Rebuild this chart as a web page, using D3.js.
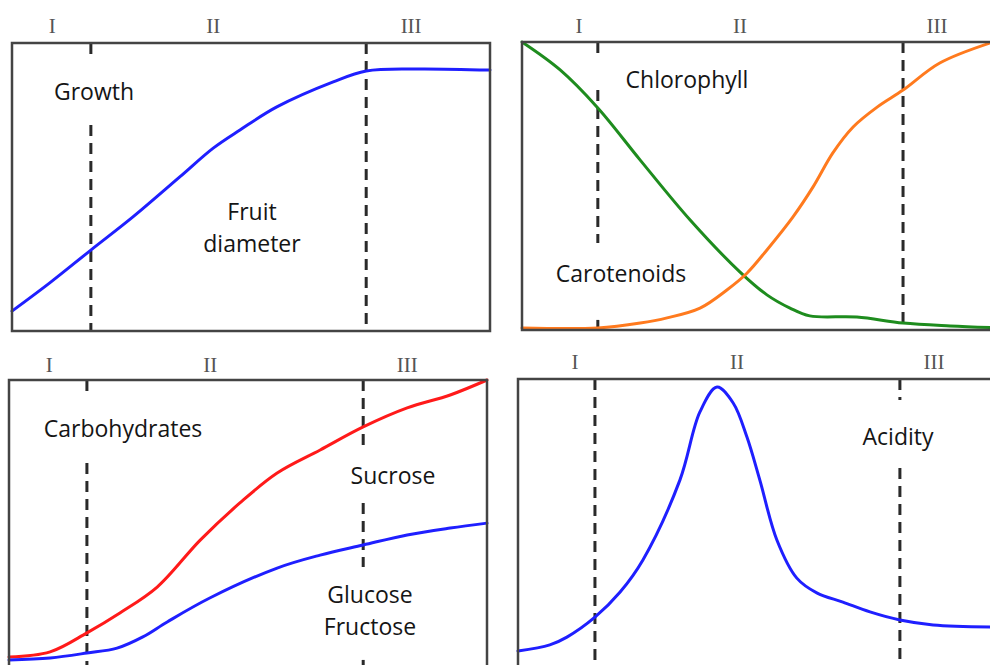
<!DOCTYPE html>
<html>
<head>
<meta charset="utf-8">
<script src="https://cdn.jsdelivr.net/npm/d3@7"></script>
<style>
  html, body { margin: 0; padding: 0; background: #fff; }
  svg { display: block; }
</style>
</head>
<body>
<svg id="chart" width="990" height="665"></svg>
<script>
// Stage names shown above each panel
const stageNames = ["I", "II", "III"];

// Fruit growth (diameter), time in % of development, value in % of max
const growthTime  = [0, 7.9, 16.5, 25.3, 35.1, 42.1, 47.7, 55.4, 67.2, 74.1, 84.7, 100];
const growthDiam  = [6.9, 16.7, 28.1, 39.6, 53.5, 63.5, 69.8, 77.8, 86.5, 90.3, 91.0, 90.6];

// Pigments
const chloroTime  = [0, 8.1, 16.1, 25.1, 35.7, 46.3, 52.0, 56.9, 61.1, 71.1, 80.9, 90.9, 100];
const chloroVal   = [100, 90.3, 77.1, 59.0, 38.2, 20.1, 12.2, 7.6, 4.9, 4.5, 2.4, 1.4, 0.8];
const caroTime    = [0, 16.1, 25.1, 30.8, 37.8, 43.5, 47.8, 52.0, 57.5, 61.8, 66.0, 70.3, 75.4, 80.9, 88.7, 100];
const caroVal     = [0.7, 0.7, 2.4, 4.2, 7.6, 13.9, 19.8, 27.8, 39.2, 49.7, 61.5, 70.5, 77.4, 83.3, 92.7, 100];

// Carbohydrates
const sucroseTime = [0, 8.6, 16.3, 23.2, 31.0, 40.0, 48.3, 56.1, 65.1, 74.1, 83.3, 92.3, 100];
const sucroseVal  = [3.8, 5.6, 12.2, 19.1, 28.1, 44.4, 57.3, 67.7, 75.7, 83.7, 90.3, 94.8, 100];
const glucoseTime = [0, 8.6, 16.3, 22.6, 28.0, 33.1, 42.0, 56.1, 65.1, 74.1, 83.3, 92.3, 100];
const glucoseVal  = [2.8, 3.5, 5.2, 6.9, 10.8, 16.0, 24.3, 34.7, 39.2, 42.7, 46.2, 48.6, 50.3];

// Acidity
const acidTime = [0, 6.7, 10.3, 16.2, 21.5, 26.3, 34.1, 38.3, 41.9, 45.3, 48.2, 50.9, 54.5, 58.7, 62.9, 68.4, 74.1, 80.4, 87.4, 100];
const acidVal  = [5.9, 8.0, 10.7, 17.6, 26.3, 37.4, 65.1, 88.6, 97.2, 91.7, 79.9, 65.1, 44.3, 31.1, 26.0, 22.8, 19.4, 16.6, 14.9, 14.2];

// Stage boundaries (time %) and where the stage names sit
const bounds = {
  growth:  [16.5, 74.1],
  pigment: [16.1, 80.9],
  carbo:   [16.3, 74.1],
  acid:    [16.2, 80.4]
};
const stageLabelPos = {
  growth:  [8.4, 42.1, 83.5],
  pigment: [12.1, 46.3, 88.1],
  carbo:   [8.4, 42.1, 83.3],
  acid:    [12.0, 46.1, 87.6]
};
// Visible stretches of each boundary line (value ranges, top to bottom), leaving room for labels
const boundRuns = {
  growth:  [[[100, 95.1], [71.5, 0]], [[100, 0]]],
  pigment: [[[100, 94.4], [83.3, 30.2], [3.5, 0]], [[100, 0]]],
  carbo:   [[[100, 94.1], [71.2, 0]], [[100, 76.7], [57.3, 35.1], [2.8, 0]]],
  acid:    [[[100, 0]], [[100, 92.7], [69.2, 0]]]
};

const svg = d3.select("#chart");
const FONT = "'Open Sans', 'DejaVu Sans', sans-serif";

function panel(cfg) {
  const x = d3.scaleLinear().domain([0, 100]).range([cfg.left, cfg.right]);
  const y = d3.scaleLinear().domain([0, 100]).range([cfg.bottom, cfg.top]);
  const g = svg.append("g");

  // stage names
  g.selectAll("text.stage").data(stageNames).join("text")
    .attr("class", "stage")
    .attr("x", (d, i) => x(stageLabelPos[cfg.key][i]))
    .attr("y", cfg.top - cfg.stageOffset)
    .attr("text-anchor", "middle")
    .attr("font-family", "'Liberation Serif', 'DejaVu Serif', serif")
    .attr("font-size", 21)
    .attr("fill", "#555")
    .text(d => d);

  // stage boundaries
  bounds[cfg.key].forEach((b, i) => {
    boundRuns[cfg.key][i].forEach(run => {
      g.append("line")
        .attr("x1", x(b)).attr("x2", x(b))
        .attr("y1", y(run[0])).attr("y2", y(run[1]))
        .attr("stroke", "#2a2a2a")
        .attr("stroke-width", 3)
        .attr("stroke-dasharray", "11,7");
    });
  });

  // curves
  const line = d3.line().x(d => x(d[0])).y(d => y(d[1])).curve(d3.curveCatmullRom.alpha(0.5));
  cfg.series.forEach(s => {
    g.append("path")
      .datum(d3.zip(s.t, s.v))
      .attr("d", line)
      .attr("fill", "none")
      .attr("stroke", s.color)
      .attr("stroke-width", 3)
      .attr("stroke-linejoin", "round")
      .attr("stroke-linecap", "round");
  });

  // frame
  g.append("rect")
    .attr("x", cfg.left).attr("y", cfg.top)
    .attr("width", cfg.right - cfg.left).attr("height", cfg.bottom - cfg.top)
    .attr("fill", "none")
    .attr("stroke", "#444")
    .attr("stroke-width", 2.5);

  // annotations
  cfg.labels.forEach(l => {
    g.append("text")
      .attr("x", l.x).attr("y", l.y)
      .attr("text-anchor", "middle")
      .attr("font-family", FONT)
      .attr("font-size", 23)
      .attr("fill", "#151515")
      .text(l.text);
  });
}

panel({
  key: "growth", left: 12, right: 490, top: 43, bottom: 331, stageOffset: 10,
  series: [{ t: growthTime, v: growthDiam, color: "#1f1fff" }],
  labels: [
    { text: "Growth", x: 94, y: 100 },
    { text: "Fruit", x: 252, y: 220 },
    { text: "diameter", x: 252, y: 252 }
  ]
});

panel({
  key: "pigment", left: 522, right: 993, top: 42, bottom: 330, stageOffset: 9,
  series: [
    { t: chloroTime, v: chloroVal, color: "#1e8c1e" },
    { t: caroTime, v: caroVal, color: "#ff7a1e" }
  ],
  labels: [
    { text: "Chlorophyll", x: 687, y: 88 },
    { text: "Carotenoids", x: 621, y: 282 }
  ]
});

panel({
  key: "carbo", left: 9, right: 487, top: 380, bottom: 668, stageOffset: 8,
  series: [
    { t: sucroseTime, v: sucroseVal, color: "#ff1a1a" },
    { t: glucoseTime, v: glucoseVal, color: "#1f1fff" }
  ],
  labels: [
    { text: "Carbohydrates", x: 123, y: 437 },
    { text: "Sucrose", x: 393, y: 484 },
    { text: "Glucose", x: 370, y: 603 },
    { text: "Fructose", x: 370, y: 635 }
  ]
});

panel({
  key: "acid", left: 518, right: 993, top: 379, bottom: 668, stageOffset: 10,
  series: [{ t: acidTime, v: acidVal, color: "#1f1fff" }],
  labels: [
    { text: "Acidity", x: 898, y: 445 }
  ]
});
</script>
</body>
</html>
